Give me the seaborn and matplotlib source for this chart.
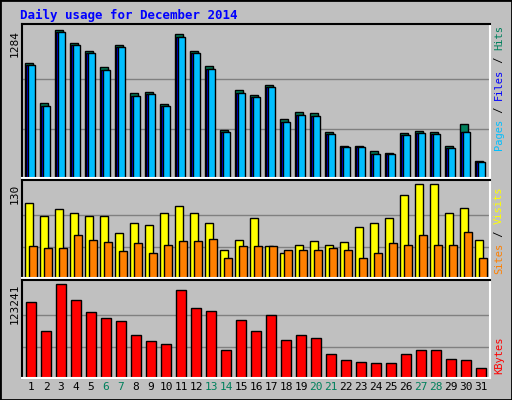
import numpy as np
import pandas as pd
import matplotlib
matplotlib.use("Agg")
import matplotlib.pyplot as plt
import seaborn as sns

days = np.arange(1, 32)
hits = [1000, 650, 1284, 1170, 1100, 960, 1150, 740, 750, 640, 1250, 1100, 970, 420, 760, 720, 810, 510, 570, 560, 400, 280, 280, 230, 220, 390, 410, 400, 280, 470, 150]
files = [980, 625, 1265, 1150, 1080, 940, 1140, 715, 730, 620, 1225, 1085, 945, 395, 740, 700, 790, 485, 550, 540, 380, 265, 265, 210, 205, 370, 390, 380, 260, 400, 135]
pages = [30, 20, 40, 35, 30, 25, 30, 20, 20, 20, 35, 30, 25, 10, 20, 20, 20, 15, 15, 15, 12, 10, 10, 8, 8, 12, 12, 12, 10, 12, 5]
visits = [103, 86, 95, 89, 85, 85, 62, 76, 73, 90, 99, 89, 76, 39, 52, 83, 44, 35, 45, 51, 45, 49, 71, 76, 83, 114, 130, 130, 89, 97, 52]
sites = [44, 41, 42, 59, 52, 49, 37, 48, 34, 45, 51, 51, 54, 28, 44, 44, 44, 38, 38, 38, 42, 38, 28, 35, 48, 45, 59, 45, 45, 63, 28]
kbytes = [99000, 61000, 123241, 102000, 86000, 79000, 75000, 56000, 48000, 44000, 115000, 91000, 88000, 36000, 76000, 61000, 82000, 50000, 56000, 52000, 31000, 24000, 21000, 19000, 20000, 32000, 36000, 36000, 25000, 24000, 13000]
weekend = {6, 7, 13, 14, 20, 21, 27, 28}

W, H = 512, 400
fig = plt.figure(figsize=(W / 100, H / 100), dpi=100, facecolor="#C0C0C0")
mono = "DejaVu Sans Mono"


def px_axes(x0, y0, x1, y1):
    ax = fig.add_axes([x0 / W, 1 - y1 / H, (x1 - x0) / W, (y1 - y0) / H])
    ax.set_facecolor("#C0C0C0")
    for s in ax.spines.values():
        s.set_color("white")
        s.set_linewidth(1.5)
    ax.spines["left"].set_color("black")
    ax.spines["top"].set_color("black")
    ax.set_xlim(0.4, 31.6)
    ax.set_xticks([])
    return ax


def bars(ax, x, y, color, width):
    df = pd.DataFrame({"x": x, "y": y})
    sns.barplot(data=df, x="x", y="y", native_scale=True, width=width,
                color=color, edgecolor="black", linewidth=1, saturation=1, ax=ax)
    ax.set_xlabel("")
    ax.set_ylabel("")


def grid(ax, top, label):
    ax.set_ylim(0, top * 1.04)
    for f in (1 / 3, 2 / 3):
        ax.axhline(top * f, color="#808080", lw=1, zorder=0)
    ax.set_yticks([top])
    ax.set_yticklabels([label], rotation=90, va="top", family=mono, fontsize=8)
    ax.tick_params(axis="y", length=0, pad=2)


ax1 = px_axes(22, 24, 490, 178)
bars(ax1, days - 0.13, hits, "#00805C", 0.48)
bars(ax1, days - 0.07, files, "#0000FF", 0.48)
bars(ax1, days + 0.05, files, "#00BFFF", 0.45)
grid(ax1, 1284, "1284")

ax2 = px_axes(22, 180, 490, 278)
bars(ax2, days - 0.12, visits, "#FFFF00", 0.5)
bars(ax2, days + 0.12, sites, "#FF8000", 0.5)
grid(ax2, 130, "130")

ax3 = px_axes(22, 280, 490, 378)
bars(ax3, days, kbytes, "#FF0000", 0.7)
grid(ax3, 123241, "123241")

for d in days:
    ax3.text(d, -0.04, str(d), transform=ax3.get_xaxis_transform(), ha="center", va="top",
             family=mono, fontsize=8, color="#00805C" if d in weekend else "black")

fig.text(20 / W, 1 - 15 / H, "Daily usage for December 2014", family=mono, fontsize=9,
         fontweight="bold", color="#0000FF", va="center")


def side(parts, ybot):
    y = ybot
    for txt, col in parts:
        fig.text(499 / W, 1 - y / H, txt, rotation=90, family=mono, fontsize=7.5,
                 color=col, ha="center", va="bottom")
        y -= len(txt) * 6.25


side([("Pages", "#00BFFF"), (" / ", "black"), ("Files", "#0000FF"), (" / ", "black"), ("Hits", "#00805C")], 150)
side([("Sites", "#FF8000"), (" / ", "black"), ("Visits", "#FFFF00")], 274)
side([("KBytes", "#FF0000")], 374)

# outer frame
fr = fig.add_axes([0, 0, 1, 1], facecolor="none")
fr.set_xticks([]); fr.set_yticks([])
for s in fr.spines.values():
    s.set_color("black"); s.set_linewidth(2)

fig.savefig("out.png", dpi=100, facecolor=fig.get_facecolor())
